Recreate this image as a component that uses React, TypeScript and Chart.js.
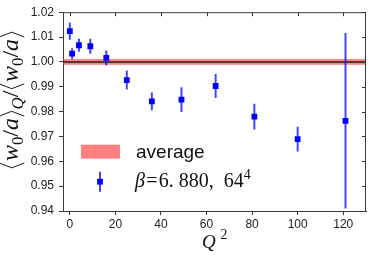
import React, { useEffect, useRef } from 'react';
import { Chart, registerables } from 'chart.js';

Chart.register(...registerables);

// ---- data ----
const q2 = [0, 1, 4, 9, 16, 25, 36, 49, 64, 81, 100, 121];
const ratio = [1.0124, 1.0033, 1.0067, 1.0063, 1.0016, 0.9927, 0.9841, 0.9848, 0.9903, 0.978, 0.9689, 0.9763];
const ratioErr = [0.0035, 0.0022, 0.0026, 0.003, 0.003, 0.0038, 0.0036, 0.005, 0.0048, 0.0052, 0.005, 0.0353];
const avgValue = 1.0;
const avgErr = 0.00115;
const xTicks = [0, 20, 40, 60, 80, 100, 120];
const yTicks = [0.94, 0.95, 0.96, 0.97, 0.98, 0.99, 1.0, 1.01, 1.02];
const legendAverage = 'average';
const legendBeta = '6. 880';
const legendLattice = '64';
const legendExponent = '4';

const SERIF = '"Liberation Serif", "DejaVu Serif", serif';
const SANS = '"Liberation Sans", Arial, sans-serif';
const BAND = 'rgba(255, 50, 50, 0.62)';
const BLUE = '#0000ff';
const ERRBLUE = 'rgba(20, 20, 255, 0.8)';
const AXIS = '#3a3a3a';

type Seg = { t?: string; it?: boolean; s?: number; dy?: number; br?: '<' | '>'; gap?: number };

function segWidth(ctx: CanvasRenderingContext2D, seg: Seg, base: number) {
  if (seg.br) return base * 0.36;
  const size = base * (seg.s ?? 1);
  ctx.font = `${seg.it ? 'italic ' : ''}${size}px ${SERIF}`;
  return ctx.measureText(seg.t || '').width + (seg.gap ?? 0) * base;
}

function drawRich(ctx: CanvasRenderingContext2D, segs: Seg[], x: number, y: number, base: number, align: 'left' | 'center') {
  let total = 0;
  for (const s of segs) total += segWidth(ctx, s, base);
  let cx = align === 'center' ? x - total / 2 : x;
  ctx.textBaseline = 'alphabetic';
  ctx.textAlign = 'left';
  for (const s of segs) {
    const w = segWidth(ctx, s, base);
    if (s.br) {
      const top = y - base * 0.78;
      const bot = y + base * 0.26;
      const mid = (top + bot) / 2;
      ctx.beginPath();
      ctx.lineWidth = Math.max(0.8, base * 0.04);
      if (s.br === '<') {
        ctx.moveTo(cx + w * 0.78, top);
        ctx.lineTo(cx + w * 0.22, mid);
        ctx.lineTo(cx + w * 0.78, bot);
      } else {
        ctx.moveTo(cx + w * 0.22, top);
        ctx.lineTo(cx + w * 0.78, mid);
        ctx.lineTo(cx + w * 0.22, bot);
      }
      ctx.stroke();
    } else {
      const size = base * (s.s ?? 1);
      ctx.font = `${s.it ? 'italic ' : ''}${size}px ${SERIF}`;
      ctx.fillText(s.t || '', cx, y + (s.dy ?? 0) * base);
    }
    cx += w;
  }
}

const overlay = {
  id: 'overlay',
  beforeDatasetsDraw(chart: any) {
    const { ctx, chartArea: a, scales } = chart;
    const x = scales.x;
    const y = scales.y;
    ctx.save();
    ctx.beginPath();
    ctx.rect(a.left, a.top, a.right - a.left, a.bottom - a.top);
    ctx.clip();
    const yt = y.getPixelForValue(avgValue + avgErr);
    const yb = y.getPixelForValue(avgValue - avgErr);
    ctx.fillStyle = BAND;
    ctx.fillRect(a.left, yt, a.right - a.left, yb - yt);
    const ya = y.getPixelForValue(avgValue);
    ctx.strokeStyle = '#222';
    ctx.lineWidth = 1.5;
    ctx.beginPath();
    ctx.moveTo(a.left, ya);
    ctx.lineTo(a.right, ya);
    ctx.stroke();
    ctx.strokeStyle = ERRBLUE;
    ctx.lineWidth = 2;
    for (let i = 0; i < q2.length; i++) {
      const px = x.getPixelForValue(q2[i]);
      ctx.beginPath();
      ctx.moveTo(px, y.getPixelForValue(ratio[i] + ratioErr[i]));
      ctx.lineTo(px, y.getPixelForValue(ratio[i] - ratioErr[i]));
      ctx.stroke();
    }
    ctx.restore();
  },
  afterDraw(chart: any) {
    const { ctx, chartArea: a, scales } = chart;
    const x = scales.x;
    const y = scales.y;
    ctx.save();
    // full box + inward ticks on top/right
    ctx.strokeStyle = AXIS;
    ctx.lineWidth = 1;
    ctx.beginPath();
    ctx.moveTo(a.left, a.top + 0.5);
    ctx.lineTo(a.right, a.top + 0.5);
    ctx.moveTo(a.right - 0.5, a.top);
    ctx.lineTo(a.right - 0.5, a.bottom);
    for (const v of xTicks) {
      const px = Math.round(x.getPixelForValue(v)) + 0.5;
      ctx.moveTo(px, a.top);
      ctx.lineTo(px, a.top + 4);
    }
    for (const v of yTicks) {
      const py = Math.round(y.getPixelForValue(v)) + 0.5;
      ctx.moveTo(a.right, py);
      ctx.lineTo(a.right - 4, py);
    }
    ctx.stroke();

    // legend
    const lx = a.left;
    const ly = a.top;
    ctx.fillStyle = BAND;
    ctx.fillRect(lx + 18, ly + 132.5, 39, 14);
    ctx.fillStyle = '#111';
    ctx.font = `19px ${SANS}`;
    ctx.textAlign = 'left';
    ctx.textBaseline = 'alphabetic';
    ctx.fillText(legendAverage, lx + 73, ly + 146);
    // legend marker
    ctx.strokeStyle = ERRBLUE;
    ctx.lineWidth = 2;
    ctx.beginPath();
    ctx.moveTo(lx + 37, ly + 159.5);
    ctx.lineTo(lx + 37, ly + 179.5);
    ctx.stroke();
    ctx.fillStyle = BLUE;
    ctx.fillRect(lx + 37 - 2.9, ly + 169.5 - 2.9, 5.8, 5.8);
    ctx.fillStyle = '#111';
    ctx.strokeStyle = '#111';
    drawRich(ctx, [
      { t: 'β', it: true, gap: 0.06 },
      { t: '=', gap: 0.06 },
      { t: legendBeta + ',  ' + legendLattice },
      { t: legendExponent, s: 0.7, dy: -0.42 },
    ], lx + 72, ly + 175, 20, 'left');

    // x title
    ctx.fillStyle = '#111';
    drawRich(ctx, [
      { t: 'Q', it: true, gap: 0.25 },
      { t: '2', s: 0.72, dy: -0.45 },
    ], 202, 248, 19, 'left');

    // y title
    ctx.translate(18, 100);
    ctx.rotate(-Math.PI / 2);
    ctx.strokeStyle = '#111';
    drawRich(ctx, [
      { br: '<' },
      { t: 'w', it: true },
      { t: '0', s: 0.7, dy: 0.2 },
      { t: '/' },
      { t: 'a', it: true },
      { br: '>' },
      { t: 'Q', it: true, s: 0.7, dy: 0.2 },
      { t: '/' },
      { br: '<' },
      { t: 'w', it: true },
      { t: '0', s: 0.7, dy: 0.2 },
      { t: '/' },
      { t: 'a', it: true },
      { br: '>' },
    ], 0, 0, 24, 'center');
    ctx.restore();
  },
};

export default function App() {
  const ref = useRef<HTMLCanvasElement | null>(null);
  useEffect(() => {
    document.body.style.margin = '0';
    const canvas = ref.current;
    if (!canvas) return;
    const chart = new Chart(canvas, {
      type: 'scatter',
      data: {
        datasets: [
          {
            data: q2.map((v, i) => ({ x: v, y: ratio[i] })),
            pointStyle: 'rect',
            pointRadius: 4.1,
            backgroundColor: BLUE,
            borderWidth: 0,
          },
        ],
      },
      options: {
        animation: false,
        responsive: false,
        devicePixelRatio: 1,
        layout: { padding: { left: 0, top: 12, right: 8, bottom: 0 } },
        plugins: { legend: { display: false }, tooltip: { enabled: false } },
        scales: {
          x: {
            type: 'linear',
            min: -3,
            max: 130,
            afterBuildTicks: (s: any) => {
              s.ticks = xTicks.map((v) => ({ value: v }));
            },
            afterFit: (s: any) => {
              s.height = 46;
            },
            ticks: {
              color: '#222',
              font: { family: SANS, size: 12 },
              padding: 2,
              maxRotation: 0,
              callback: (v: any) => String(v),
            },
            grid: { display: true, drawOnChartArea: false, drawTicks: true, tickLength: 4, color: AXIS },
            border: { display: true, color: AXIS, width: 1 },
          },
          y: {
            type: 'linear',
            min: 0.94,
            max: 1.02,
            afterBuildTicks: (s: any) => {
              s.ticks = yTicks.map((v) => ({ value: v }));
            },
            afterFit: (s: any) => {
              s.width = 63;
            },
            ticks: {
              color: '#222',
              font: { family: SANS, size: 12 },
              padding: 5,
              callback: (v: any) => Number(v).toFixed(2),
            },
            grid: { display: true, drawOnChartArea: false, drawTicks: true, tickLength: 4, color: AXIS },
            border: { display: true, color: AXIS, width: 1 },
          },
        },
      },
      plugins: [overlay],
    } as any);
    return () => chart.destroy();
  }, []);
  return (
    <div style={{ position: 'fixed', left: 0, top: 0, width: 374, height: 257, background: '#fff' }}>
      <canvas ref={ref} width={374} height={257} />
    </div>
  );
}
